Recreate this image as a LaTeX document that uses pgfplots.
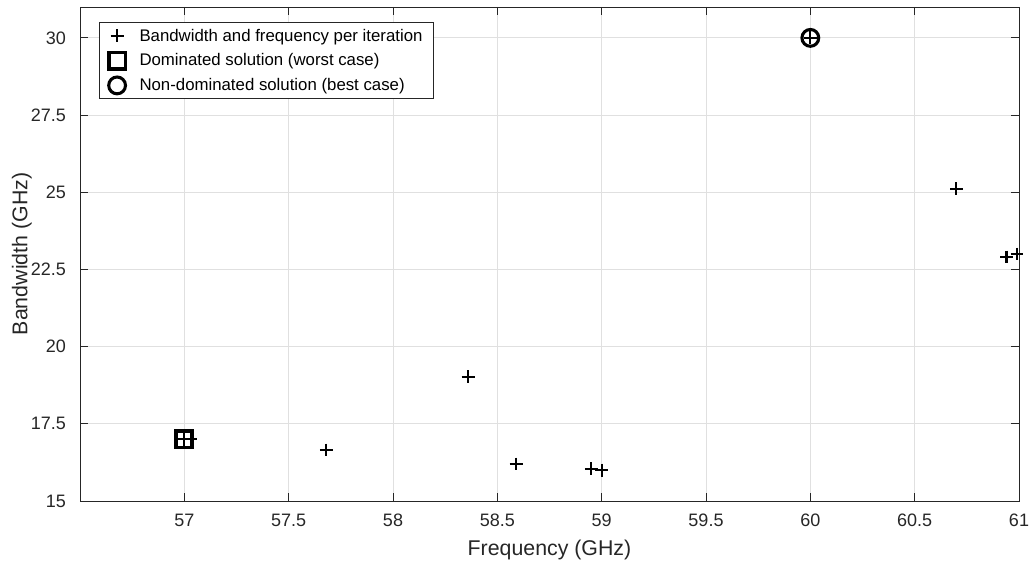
\documentclass[border=0pt]{standalone}
\usepackage{pgfplots}
\pgfplotsset{compat=1.18}
\usepackage{fontspec}
\setmainfont{Liberation Sans}
\definecolor{axisgray}{gray}{0.15}
\definecolor{gridgray}{gray}{0.88}
\begin{document}
\begin{tikzpicture}[x=1pt,y=1pt]
% fixed canvas
\path[use as bounding box] (0,0) rectangle (772.5,423);
\begin{axis}[
  at={(60pt,47.25pt)}, anchor=south west,
  scale only axis,
  width=704.25pt, height=370.5pt,
  xmin=56.5, xmax=61, ymin=15, ymax=31,
  xtick={57,57.5,...,61}, ytick={15,17.5,...,30},
  xticklabels={57,57.5,58,58.5,59,59.5,60,60.5,61},
  yticklabels={15,17.5,20,22.5,25,27.5,30},
  tick align=inside, tick pos=both,
  major tick length=6pt,
  grid=major,
  major grid style={gridgray, line width=0.6pt},
  axis line style={axisgray, line width=0.6pt},
  every tick/.style={axisgray, line width=0.6pt},
  tick label style={font=\fontsize{13.5}{16}\selectfont, text=axisgray},
  xticklabel style={yshift=-6pt},
  yticklabel style={xshift=-7pt},
  xlabel={Frequency (GHz)}, ylabel={Bandwidth (GHz)},
  label style={font=\fontsize{16}{19}\selectfont, text=axisgray},
  xlabel style={at={(axis description cs:0.5,-0.0992)}, anchor=center},
  ylabel style={at={(axis description cs:-0.0618,0.5)}, anchor=center},
  legend style={at={(axis description cs:0.0202,0.9696)}, anchor=north west,
    draw=axisgray, line width=0.6pt, font=\fontsize{12.6}{15}\selectfont,
    inner xsep=7pt, inner ysep=2pt, row sep=2.5pt, column sep=9pt,
    nodes={inner sep=1.5pt, text height=10.5pt, text depth=2.6pt},
    cells={anchor=west}},
  legend cell align=left,
]
\addplot[only marks, mark=+, mark size=4.8pt, line width=1.6pt, black]
  coordinates {(57.0,17.0) (57.03,17.0) (57.68,16.65) (58.36,19.02) (58.59,16.2)
               (58.95,16.05) (59.0,16.0) (60.0,30.0) (60.70,25.11)
               (60.94,22.9) (60.99,23.0)};
\addlegendentry{Bandwidth and frequency per iteration}
\addplot[only marks, mark=square, mark size=6.2pt, line width=2.5pt, black]
  coordinates {(57.0,17.0)};
\addlegendentry{Dominated solution (worst case)}
\addplot[only marks, mark=o, mark size=6.3pt, line width=2.3pt, black]
  coordinates {(60.0,30.0)};
\addlegendentry{Non-dominated solution (best case)}
\end{axis}
\end{tikzpicture}
\end{document}
